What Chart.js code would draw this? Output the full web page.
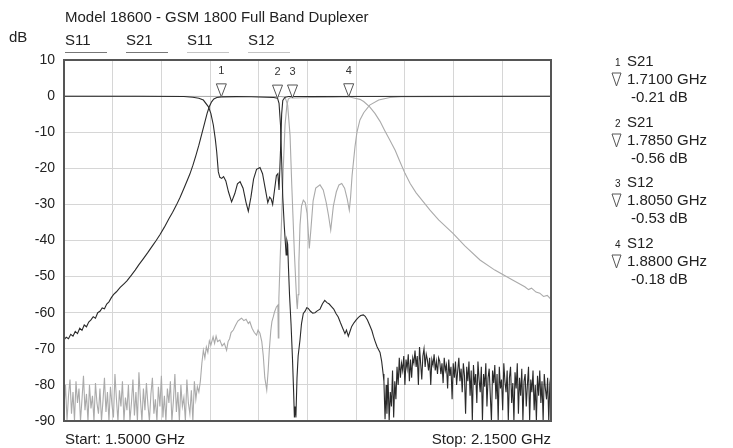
<!DOCTYPE html>
<html>
<head>
<meta charset="utf-8">
<script src="https://cdn.jsdelivr.net/npm/chart.js@4.4.0/dist/chart.umd.min.js"></script>
<style>
  body { margin: 0; background: #fff; font-family: "Liberation Sans", Arial, sans-serif; color: #222; }
  #wrap { position: relative; width: 733px; height: 448px; }
  #chart { position: absolute; left: 0; top: 0; }
  .t { position: absolute; white-space: nowrap; font-size: 15px; line-height: 16px; }
  .u { position: absolute; height: 1px; top: 52px; width: 42px; }
  .num { font-size: 10px; }
</style>
</head>
<body>
<div id="wrap">
  <canvas id="chart" width="733" height="448"></canvas>
  <div class="t" style="left:65px;top:9px">Model 18600 - GSM 1800 Full Band Duplexer</div>
  <div class="t" style="left:9px;top:29px">dB</div>
  <div id="legend"></div>
  <div class="t" style="left:65px;top:431px">Start: 1.5000 GHz</div>
  <div class="t" style="right:182px;top:431px">Stop: 2.1500 GHz</div>
  <div id="markers"></div>
</div>
<script>
// x grid (GHz) and y ticks (dB)
const xGrid = [1.5, 1.565, 1.63, 1.695, 1.76, 1.825, 1.89, 1.955, 2.02, 2.085, 2.15];
const yTicks = [10, 0, -10, -20, -30, -40, -50, -60, -70, -80, -90];

const traceNames = ['S11', 'S21', 'S11', 'S12'];

// S21 (dark) - Tx band filter
const s21Freq = [1.500, 1.503, 1.506, 1.509, 1.512, 1.515, 1.518, 1.521, 1.524, 1.527, 1.530, 1.533, 1.536, 1.539,
  1.542, 1.545, 1.548, 1.551, 1.554, 1.557, 1.560, 1.563, 1.566, 1.570, 1.575, 1.580, 1.584, 1.590, 1.595,
  1.600, 1.606, 1.612, 1.618, 1.623, 1.628, 1.634, 1.640, 1.645, 1.650, 1.655, 1.660, 1.665, 1.668, 1.672,
  1.676, 1.680, 1.684, 1.688, 1.691, 1.694, 1.697, 1.700, 1.704, 1.710, 1.730, 1.750, 1.770, 1.780, 1.785,
  1.787, 1.789, 1.7905, 1.792, 1.794, 1.7965, 1.7975, 1.7985, 1.7995, 1.801, 1.803, 1.805, 1.8065, 1.8075,
  1.8085, 1.8095, 1.811, 1.8125, 1.815, 1.817, 1.8194, 1.822, 1.824, 1.826, 1.829, 1.832, 1.835, 1.838,
  1.8417, 1.845, 1.848, 1.851, 1.854, 1.857, 1.860, 1.863, 1.866, 1.869, 1.872, 1.875, 1.877, 1.8795,
  1.882, 1.884, 1.887, 1.890, 1.893, 1.896, 1.8995, 1.902, 1.905, 1.908, 1.911, 1.913, 1.915, 1.918,
  1.9218, 1.924, 1.926, 1.927, 1.9285, 1.930, 1.931, 1.9325, 1.934, 1.9355, 1.937, 1.9385, 1.940, 1.9415,
  1.943, 1.9445, 1.946, 1.9475, 1.949, 1.9505, 1.952, 1.9535, 1.955, 1.9565, 1.958, 1.9595, 1.961, 1.9625,
  1.964, 1.9655, 1.967, 1.9685, 1.970, 1.9715, 1.973, 1.9745, 1.976, 1.9775, 1.979, 1.9805, 1.982, 1.9835,
  1.985, 1.9865, 1.988, 1.9895, 1.991, 1.9925, 1.994, 1.9955, 1.997, 1.9985, 2.000];
const s21Db = [-67.5, -66.8, -67.2, -66.0, -66.5, -65.2, -65.8, -64.3, -64.9, -63.4, -63.9, -62.6, -62.0, -61.1,
  -61.5, -60.0, -59.6, -58.7, -58.9, -57.6, -57.0, -55.9, -55.0, -54.2, -53.0, -52.0, -51.2, -49.6, -48.2,
  -46.7, -45.0, -43.3, -41.5, -40.0, -38.4, -36.3, -34.0, -32.2, -30.2, -28.0, -25.6, -23.1, -21.6, -19.2,
  -16.5, -13.6, -10.4, -7.2, -4.8, -2.9, -1.6, -0.8, -0.4, -0.21, -0.15, -0.2, -0.3, -0.4, -0.56,
  -2, -8, -18, -28, -36, -44, -40, -41, -47, -55, -63, -73, -82, -89,
  -86, -89, -78, -72, -67.5, -63, -60.2, -59.5, -58.6, -58.8, -59.6, -60.1, -60.0, -59.5,
  -59.0, -57.5, -56.6, -57.2, -57.6, -58.3, -59.0, -60.2, -61.2, -62.8, -64.3, -65.8, -64.8, -66.5,
  -65.0, -63.8, -62.8, -62.0, -61.3, -60.8, -60.6, -61.0, -62.0, -63.5, -65.0, -66.5, -67.8, -69.5,
  -71.0, -73.5, -77.0, -79, -89.5, -80, -88, -78, -90, -82, -86, -76, -89, -79,
  -84, -75, -80, -72.5, -78, -74, -76, -72, -80, -73, -75.5, -71.5, -79, -73,
  -78, -72.5, -74, -70.5, -75, -72, -80, -69.5, -74, -78.5, -72, -70, -75, -71.5,
  -73, -76, -72.5, -80, -73, -74.5, -71.5, -76, -73.5, -77, -72.5, -75];
// S21 sweep tail, 1.5 MHz steps from 2.0015 GHz
const s21TailStart = 2.0015;
const s21TailStep = 0.0015;
const s21TailDb = [-73.5, -77, -74, -79.5, -72.5, -76, -74.5, -81, -73, -77.5,
  -75, -84, -74, -78, -73.5, -80, -76, -72.5, -79, -75.5,
  -82, -74, -77.5, -88, -75, -79, -73.5, -83, -76, -90,
  -74.5, -80, -77, -85, -73.5, -78.5, -82, -75, -90, -77,
  -80.5, -74, -86, -78, -75.5, -83, -90, -76, -79.5, -74.5,
  -84, -77, -90, -75, -81, -78.5, -87, -74, -79, -82,
  -76, -90, -78, -75, -85, -79.5, -90, -76.5, -81, -74,
  -88, -78, -83, -75.5, -90, -79, -77, -86, -80, -75,
  -90, -78.5, -82, -76, -87, -80, -90, -77.5, -83, -76,
  -85, -79, -90, -77, -81, -84, -78, -90, -79.5, -77];

// S11 (dark) - Tx port return loss
const s11TxFreq = [1.500, 1.600, 1.660, 1.672, 1.680, 1.686, 1.6926, 1.696, 1.6993, 1.702, 1.7038, 1.706,
  1.708, 1.7105, 1.713, 1.716, 1.7195, 1.7237, 1.728, 1.7315, 1.735, 1.739, 1.743, 1.746, 1.7495,
  1.753, 1.757, 1.7616, 1.765, 1.7685, 1.772, 1.7745, 1.7765, 1.7785, 1.781, 1.7835, 1.7855, 1.787,
  1.789, 1.7905, 1.792, 1.795, 1.800, 2.150];
const s11TxDb = [-0.05, -0.05, -0.1, -0.3, -0.6, -1.1, -2.9, -4.8, -8, -12, -15.4, -21,
  -22.5, -22.8, -22.3, -23.5, -26.5, -29.3, -27, -24.3, -23.7, -25.5, -29.5, -31.9, -28,
  -23, -20.3, -19.8, -21.5, -25.5, -29.5, -28, -28.5, -30, -26, -22, -21.5, -26,
  -15, -5, -1.2, -0.3, -0.1, -0.05];

// S11 (grey) - Rx port return loss
const s11RxFreq = [1.500, 1.790, 1.795, 1.7985, 1.8017, 1.804, 1.8074, 1.8106, 1.8114, 1.8125, 1.8135,
  1.815, 1.817, 1.8194, 1.822, 1.8245, 1.8274, 1.8295, 1.8325, 1.836, 1.8417, 1.846, 1.850, 1.853,
  1.856, 1.8595, 1.8635, 1.867, 1.8707, 1.8745, 1.878, 1.8808, 1.8825, 1.8845, 1.8884, 1.891, 1.895,
  1.900, 1.908, 1.920, 1.935, 1.950, 2.150];
const s11RxDb = [-0.05, -0.1, -0.3, -2.5, -10.8, -24.6, -43, -57, -59, -55, -46,
  -35.7, -30.5, -28.8, -29.5, -32.5, -42.2, -37, -29, -25.5, -24.6, -26, -29.5, -33,
  -37.1, -30.5, -26.5, -24.6, -24.2, -25.5, -28.5, -31.6, -28, -22, -14, -10, -6.6,
  -4.6, -2.5, -1.1, -0.4, -0.15, -0.05];

// S12 (grey) - Rx band filter; sweep head, 2 MHz steps from 1.5 GHz
const s12HeadStart = 1.5;
const s12HeadStep = 0.002;
const s12HeadDb = [-86, -80, -90, -83, -78.5, -88, -82, -90, -79, -85,
  -81, -90, -84, -77.5, -87, -82.5, -90, -80, -86.5, -83,
  -90, -79.5, -85, -88, -81, -90, -84.5, -78, -87.5, -82,
  -90, -80.5, -85.5, -89, -77, -84, -90, -81.5, -86, -79,
  -90, -83.5, -87, -80, -90, -85, -78.5, -88.5, -82, -90,
  -76.5, -84, -90, -81, -87, -79.5, -85.5, -90, -82.5, -78,
  -88, -84, -90, -80.5, -86, -77.5, -89, -83, -90, -81,
  -85, -79, -90, -84.5, -77, -87.5, -82, -90, -80, -86,
  -83.5, -90, -78.5, -85, -88, -81.5, -90, -79, -84, -80.5, -82];
const s12Freq = [1.682, 1.684, 1.686, 1.688, 1.690, 1.692, 1.694, 1.696, 1.699, 1.701, 1.703, 1.705, 1.708,
  1.711, 1.714, 1.717, 1.719, 1.721, 1.723, 1.726, 1.729, 1.732, 1.735, 1.737, 1.740, 1.743, 1.746,
  1.748, 1.751, 1.754, 1.757, 1.759, 1.7615, 1.764, 1.766, 1.768, 1.7706, 1.7725, 1.774, 1.776, 1.7775,
  1.7794, 1.781, 1.7835, 1.7855, 1.786, 1.7868, 1.7885, 1.7905, 1.7927, 1.795, 1.7975, 1.7994, 1.802,
  1.805, 1.830, 1.860, 1.880, 1.8884, 1.895, 1.900, 1.908, 1.915, 1.9218, 1.928, 1.935, 1.942, 1.948,
  1.9551, 1.962, 1.970, 1.9885, 2.000, 2.0192, 2.035, 2.0552, 2.075, 2.0993, 2.115, 2.120, 2.124,
  2.130, 2.135, 2.140, 2.145, 2.150];
const s12Db = [-79, -74, -70.4, -72.5, -69.5, -71, -67.8, -69, -66.7, -68.5, -66.5, -68, -67.6,
  -69.2, -68.5, -70.4, -68, -67.2, -65.5, -64.8, -63.5, -62.3, -61.8, -61.5, -62.2, -61.8, -63,
  -62.5, -64.3, -65.5, -66.2, -64.8, -65.7, -68, -72, -78, -81.4, -76, -70.4, -65, -62.5,
  -61.1, -59.8, -58.4, -57.9, -67, -56, -45, -33.8, -20, -8, -2.5, -0.8, -0.4,
  -0.53, -0.4, -0.3, -0.18, -0.6, -0.9, -1.5, -3, -4.8, -7, -9.5, -12.2, -15, -18,
  -21.4, -24.2, -26.8, -31.6, -34.3, -38, -41.5, -45.4, -48.2, -51, -52.8, -53.6, -53.2,
  -54.3, -54.6, -55.5, -55.2, -56.3];

// markers
const markerNum = ['1', '2', '3', '4'];
const markerTrace = ['S21', 'S21', 'S12', 'S12'];
const markerFreq = [1.71, 1.785, 1.805, 1.88];
const markerDb = [-0.21, -0.56, -0.53, -0.18];

const DARK = '#2a2a2a';
const GREY = '#aaaaaa';

function pairs(xs, ys) {
  return xs.map((x, i) => ({ x: x, y: ys[i] }));
}
function sweep(start, step, ys) {
  return ys.map((y, i) => ({ x: +(start + i * step).toFixed(4), y: y }));
}

// legend above the plot
const legendX = [65, 126, 187, 248];
let lg = '';
traceNames.forEach((n, i) => {
  lg += '<div class="t" style="left:' + legendX[i] + 'px;top:32px">' + n + '</div>';
  lg += '<div class="u" style="left:' + legendX[i] + 'px;background:' + (i < 2 ? '#777' : '#c4c4c4') + '"></div>';
});
document.getElementById('legend').innerHTML = lg;

// marker table on the right
let mk = '';
markerNum.forEach((n, i) => {
  const top = 53 + i * 60.5;
  mk += '<div class="t num" style="left:615px;top:' + (top + 2) + 'px">' + n + '</div>';
  mk += '<div class="t" style="left:627px;top:' + top + 'px">' + markerTrace[i] + '</div>';
  mk += '<svg style="position:absolute;left:611px;top:' + (top + 19) + 'px" width="11" height="15">' +
        '<polygon points="1,1 10,1 5.5,14" fill="#fff" stroke="#555" stroke-width="1"/></svg>';
  mk += '<div class="t" style="left:627px;top:' + (top + 18) + 'px">' + markerFreq[i].toFixed(4) + ' GHz</div>';
  mk += '<div class="t" style="left:631px;top:' + (top + 36) + 'px">' + markerDb[i].toFixed(2) + ' dB</div>';
});
document.getElementById('markers').innerHTML = mk;

const overlay = {
  id: 'overlay',
  afterDatasetsDraw(chart) {
    const { ctx, chartArea: a, scales } = chart;
    ctx.save();
    ctx.strokeStyle = '#555';
    ctx.lineWidth = 2;
    ctx.strokeRect(a.left, a.top, a.right - a.left, a.bottom - a.top);
    ctx.font = '11px "Liberation Sans", Arial, sans-serif';
    ctx.textAlign = 'center';
    ctx.textBaseline = 'middle';
    for (let i = 0; i < markerFreq.length; i++) {
      const x = scales.x.getPixelForValue(markerFreq[i]);
      const y = scales.y.getPixelForValue(markerDb[i]);
      ctx.beginPath();
      ctx.moveTo(x - 5, y - 13);
      ctx.lineTo(x + 5, y - 13);
      ctx.lineTo(x, y);
      ctx.closePath();
      ctx.fillStyle = '#fff';
      ctx.fill();
      ctx.strokeStyle = '#555';
      ctx.lineWidth = 1;
      ctx.stroke();
      ctx.fillStyle = '#333';
      ctx.fillText(markerNum[i], x, y - 26);
    }
    ctx.restore();
  }
};

function line(data, color, order) {
  return {
    data: data, borderColor: color, borderWidth: 1.1, pointRadius: 0,
    showLine: true, fill: false, tension: 0, order: order
  };
}

new Chart(document.getElementById('chart'), {
  type: 'scatter',
  data: {
    datasets: [
      line(pairs(s11TxFreq, s11TxDb), DARK, 1),
      line(pairs(s21Freq, s21Db).concat(sweep(s21TailStart, s21TailStep, s21TailDb)), DARK, 1),
      line(pairs(s11RxFreq, s11RxDb), GREY, 2),
      line(sweep(s12HeadStart, s12HeadStep, s12HeadDb).concat(pairs(s12Freq, s12Db)), GREY, 2)
    ]
  },
  options: {
    responsive: false,
    animation: false,
    devicePixelRatio: 1,
    layout: { padding: { top: 60, right: 182, bottom: 27, left: 0 } },
    plugins: { legend: { display: false }, tooltip: { enabled: false } },
    scales: {
      x: {
        type: 'linear', min: 1.5, max: 2.15,
        afterBuildTicks: s => { s.ticks = xGrid.map(v => ({ value: v })); },
        afterFit: s => { s.height = 0; },
        ticks: { display: false },
        grid: { color: '#d6d6d6', lineWidth: 1, drawTicks: false },
        border: { display: false }
      },
      y: {
        min: -90, max: 10,
        afterBuildTicks: s => { s.ticks = yTicks.map(v => ({ value: v })); },
        afterFit: s => { s.width = 64; },
        ticks: {
          color: '#222', padding: 9,
          font: { family: '"Liberation Sans", Arial, sans-serif', size: 14 }
        },
        grid: { color: '#d6d6d6', lineWidth: 1, drawTicks: false },
        border: { display: false }
      }
    }
  },
  plugins: [overlay]
});
</script>
</body>
</html>
